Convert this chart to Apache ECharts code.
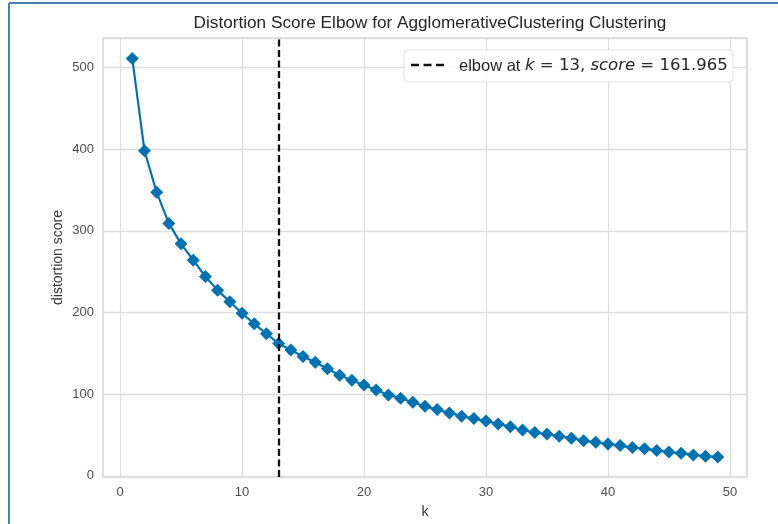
<!DOCTYPE html>
<html>
<head>
<meta charset="utf-8">
<script src="https://cdn.jsdelivr.net/npm/echarts@6/dist/echarts.min.js"></script>
<style>
html,body{margin:0;padding:0;background:#fff;}
#chart{width:778px;height:524px;}
</style>
</head>
<body>
<div id="chart"></div>
<script>
var titleText = 'Distortion Score Elbow for AgglomerativeClustering Clustering';
var kValues = [1,2,3,4,5,6,7,8,9,10,11,12,13,14,15,16,17,18,19,20,21,22,23,24,25,26,27,28,29,30,31,32,33,34,35,36,37,38,39,40,41,42,43,44,45,46,47,48,49];
var distortion = [511,398,347,309,284,264,244,227,213,199,186,174,161.965,154,146,139,131,123,117,111,105,99,95,90,85,81,77,73,70,67,63.5,60,56,53,51,48.5,46,43,41,39,37,34.5,33,31,29,27.5,25.5,24,23];
var elbowK = 13;
var elbowScore = 161.965;
var xTicks = [0,10,20,30,40,50];
var yTicks = [0,100,200,300,400,500];

var points = kValues.map(function(k, i){ return [k, distortion[i]]; });

var chart = echarts.init(document.getElementById('chart'), null, {renderer:'canvas'});
var labelColor = '#4d4d4d';
var gridColor = '#dedede';
var sansFont = '"Liberation Sans", Arial, sans-serif';
var mathFont = '"DejaVu Sans", sans-serif';

chart.setOption({
  animation: false,
  backgroundColor: '#ffffff',
  title: {
    text: titleText,
    left: 425, top: 10, textAlign: 'center',
    textStyle: {fontFamily: sansFont, fontSize: 17.2, fontWeight: 'normal', color: '#262626'}
  },
  grid: {left: 103, right: 31, top: 38, bottom: 46, show: true, borderColor: '#d4d4d4', borderWidth: 1.5, backgroundColor: '#ffffff'},
  xAxis: {
    type: 'value', min: -1.4, max: 51.4,
    name: 'k', nameLocation: 'middle', nameGap: 28, nameMoveOverlap: false,
    nameTextStyle: {fontFamily: sansFont, fontSize: 14, color: '#333'},
    axisLine: {show: false}, axisTick: {show: false},
    axisLabel: {fontFamily: sansFont, fontSize: 13, color: labelColor, margin: 9, showMinLabel: false, showMaxLabel: false,
      formatter: function(v){ return xTicks.indexOf(v) >= 0 ? String(v) : ''; }},
    splitLine: {show: true, lineStyle: {color: gridColor, width: 1.3}}
  },
  yAxis: {
    type: 'value', min: -1.5, max: 536,
    name: 'distortion score', nameLocation: 'middle', nameGap: 38, nameMoveOverlap: false,
    nameTextStyle: {fontFamily: sansFont, fontSize: 14, color: '#333'},
    axisLine: {show: false}, axisTick: {show: false},
    axisLabel: {fontFamily: sansFont, fontSize: 13, color: labelColor, margin: 9, showMinLabel: false, showMaxLabel: false,
      formatter: function(v){ return yTicks.indexOf(v) >= 0 ? String(v) : ''; }},
    splitLine: {show: true, lineStyle: {color: gridColor, width: 1.3}}
  },
  series: [{
    name: 'distortion',
    type: 'line',
    data: points,
    symbol: 'diamond',
    symbolSize: 13,
    showAllSymbol: true,
    lineStyle: {color: '#0072B2', width: 2.2},
    itemStyle: {color: '#0072B2', borderColor: '#0072B2', borderWidth: 0},
    z: 3,
    markLine: {
      silent: true,
      symbol: 'none',
      label: {show: false},
      lineStyle: {color: '#111111', type: [7, 3.5], width: 2.3},
      data: [{xAxis: elbowK}],
      z: 4
    }
  }],
  graphic: [
    {type: 'line', shape: {x1: 9, y1: 3, x2: 778, y2: 3}, style: {stroke: '#4a7ebb', lineWidth: 2}, z: 10},
    {type: 'line', shape: {x1: 9, y1: 3, x2: 9, y2: 524}, style: {stroke: '#4a7ebb', lineWidth: 2}, z: 10},
    {type: 'rect', shape: {x: 404, y: 50, width: 329, height: 32, r: 4}, style: {fill: 'rgba(255,255,255,0.85)', stroke: '#e3e3e3', lineWidth: 1}, z: 20},
    {type: 'line', shape: {x1: 411, y1: 65, x2: 444, y2: 65}, style: {stroke: '#111111', lineWidth: 2.5, lineDash: [8, 4.5]}, z: 21},
    {type: 'text', x: 459, y: 66, z: 21,
      style: {
        text: '{a|elbow at }{i|k}{m| = ' + elbowK + ', }{i|score}{m| = ' + elbowScore.toFixed(3) + '}',
        verticalAlign: 'middle', textVerticalAlign: 'middle',
        rich: {
          a: {fontFamily: sansFont, fontSize: 16.5, fill: '#262626', color: '#262626'},
          i: {fontFamily: mathFont, fontStyle: 'italic', fontSize: 16.5, fill: '#262626', color: '#262626'},
          m: {fontFamily: mathFont, fontSize: 16.5, fill: '#262626', color: '#262626'}
        }
      }
    }
  ]
});
</script>
</body>
</html>
